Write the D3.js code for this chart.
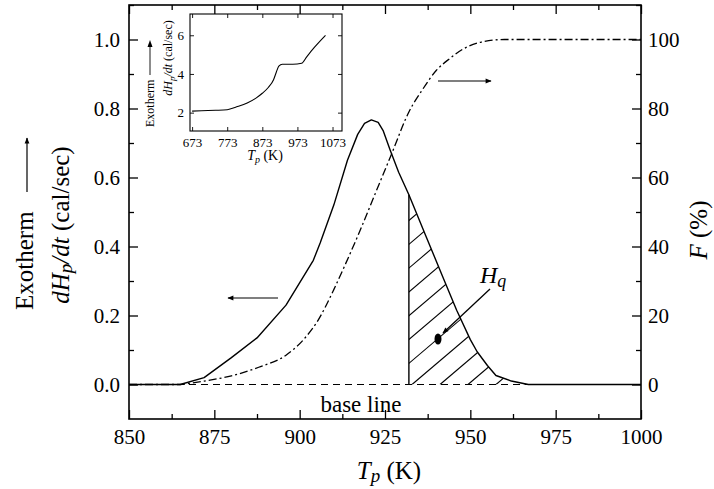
<!DOCTYPE html>
<html>
<head>
<meta charset="utf-8">
<script src="https://cdn.jsdelivr.net/npm/d3@7"></script>
<style>
  body { margin: 0; background: #fff; }
  .tick line { stroke: #000; stroke-width: 1.3; }
</style>
</head>
<body>
<svg id="chart" width="714" height="489"></svg>
<script>
// main curve, dHp/dt (cal/sec) vs Tp (K)
const tempK = [850, 865, 872, 880, 887.5, 896, 904, 906, 910, 914, 917, 919, 921, 923, 924.5, 926.5, 929, 932, 937, 942, 946, 950, 952, 955, 957.5, 962, 967, 1000];
const heatRate = [0, 0, 0.02, 0.078, 0.135, 0.23, 0.36, 0.41, 0.52, 0.65, 0.725, 0.757, 0.767, 0.76, 0.735, 0.68, 0.615, 0.55, 0.43, 0.31, 0.215, 0.13, 0.095, 0.055, 0.026, 0.01, 0, 0];

// fraction F (%) vs Tp (K)
const fracTemp = [850, 865, 868, 872, 880, 888, 896, 902, 905, 910, 913, 917, 922, 927, 932, 936, 940, 944, 948, 953, 960, 1000];
const fracPct = [0, 0, 0.4, 1, 2.5, 5, 8.5, 14, 18, 27.5, 34, 43, 55, 67, 79, 85.5, 91, 94.5, 97.3, 99.2, 100, 100];

// inset curve, 673-1073 K
const insetTemp = [673, 700, 740, 773, 800, 830, 855, 873, 890, 905, 913, 920, 930, 960, 985, 1000, 1020, 1053];
const insetRate = [2.08, 2.1, 2.12, 2.15, 2.3, 2.5, 2.75, 3.0, 3.3, 3.7, 4.1, 4.4, 4.5, 4.5, 4.55, 4.9, 5.35, 6.0];

const xTicks = [850, 875, 900, 925, 950, 975, 1000];
const yLeftTicks = [0, 0.2, 0.4, 0.6, 0.8, 1.0];
const yRightTicks = [0, 20, 40, 60, 80, 100];
const insetXTicks = [673, 773, 873, 973, 1073];
const insetYTicks = [2, 4, 6];

const hqStart = 932; // left edge of the hatched Hq area
const hqEnd = 967;

const serif = '"Liberation Serif", "Times New Roman", serif';
const svg = d3.select('#chart').attr('font-family', serif);

const plot = { left: 129, right: 641, top: 5, bottom: 419 };

const x = d3.scaleLinear().domain([850, 1000]).range([plot.left, plot.right]);
const yL = d3.scaleLinear().domain([-0.1, 1.1]).range([plot.bottom, plot.top]);
const yR = d3.scaleLinear().domain([-10, 110]).range([plot.bottom, plot.top]);

// arrow heads
const defs = svg.append('defs');
defs.append('marker')
  .attr('id', 'head')
  .attr('viewBox', '0 0 10 10')
  .attr('refX', 9).attr('refY', 5)
  .attr('markerWidth', 9).attr('markerHeight', 6)
  .attr('markerUnits', 'userSpaceOnUse')
  .attr('orient', 'auto')
  .append('path').attr('d', 'M0,1 L10,5 L0,9 Z').attr('fill', '#000');

const heatLine = d3.line().x(d => x(d[0])).y(d => yL(d[1]));
const heatPts = tempK.map((t, i) => [t, heatRate[i]]);
const interp = d3.scaleLinear().domain(tempK).range(heatRate);

// hatched area under the tail of the peak
const hqPoly = [[hqStart, 0], [hqStart, interp(hqStart)],
  ...heatPts.filter(d => d[0] > hqStart && d[0] <= hqEnd)];

defs.append('clipPath').attr('id', 'hqClip')
  .append('path')
  .attr('d', heatLine(hqPoly) + 'Z');

const hatch = svg.append('g').attr('clip-path', 'url(#hqClip)');
const slope = 0.85;
for (let x0 = 440 - 28 * 12; x0 < 720; x0 += 28) {
  hatch.append('line')
    .attr('x1', x0).attr('y1', yL(0))
    .attr('x2', x0 + 300).attr('y2', yL(0) - 300 * slope)
    .attr('stroke', '#000').attr('stroke-width', 1.1);
}

svg.append('line')
  .attr('x1', x(hqStart)).attr('x2', x(hqStart))
  .attr('y1', yL(0)).attr('y2', yL(interp(hqStart)))
  .attr('stroke', '#000').attr('stroke-width', 1.4);

// base line
svg.append('line')
  .attr('x1', x(850)).attr('x2', x(1000))
  .attr('y1', yL(0)).attr('y2', yL(0))
  .attr('stroke', '#000').attr('stroke-width', 1.2)
  .attr('stroke-dasharray', '7,5');

// curves
svg.append('path')
  .datum(heatPts)
  .attr('fill', 'none').attr('stroke', '#000').attr('stroke-width', 1.4)
  .attr('stroke-linejoin', 'round')
  .attr('d', heatLine);

svg.append('path')
  .datum(fracTemp.map((t, i) => [t, fracPct[i]]))
  .attr('fill', 'none').attr('stroke', '#000').attr('stroke-width', 1.3)
  .attr('stroke-dasharray', '8,3,2,3')
  .attr('d', d3.line().x(d => x(d[0])).y(d => yR(d[1])).curve(d3.curveMonotoneX));

// frame and axes
svg.append('rect')
  .attr('x', plot.left).attr('y', plot.top)
  .attr('width', plot.right - plot.left).attr('height', plot.bottom - plot.top)
  .attr('fill', 'none').attr('stroke', '#000').attr('stroke-width', 1.6);

const minorX = d3.range(862.5, 1000, 25);
const minorYL = d3.range(0.1, 1.11, 0.2);
const minorYR = d3.range(10, 111, 20);

function ticks(axis, g, size) {
  g.call(axis).call(s => s.select('.domain').remove());
  g.attr('font-family', serif).attr('font-size', size || 21);
  g.selectAll('text').attr('fill', '#000');
  return g;
}

ticks(d3.axisBottom(x).tickValues(xTicks).tickSize(-9).tickPadding(10).tickFormat(d3.format('d')),
  svg.append('g').attr('transform', `translate(0,${plot.bottom})`));
ticks(d3.axisBottom(x).tickValues(minorX).tickSize(-5).tickFormat(''),
  svg.append('g').attr('transform', `translate(0,${plot.bottom})`));
ticks(d3.axisTop(x).tickValues(xTicks).tickSize(-9).tickFormat(''),
  svg.append('g').attr('transform', `translate(0,${plot.top})`));
ticks(d3.axisTop(x).tickValues(minorX).tickSize(-5).tickFormat(''),
  svg.append('g').attr('transform', `translate(0,${plot.top})`));

ticks(d3.axisLeft(yL).tickValues(yLeftTicks).tickSize(-9).tickPadding(9).tickFormat(d3.format('.1f')),
  svg.append('g').attr('transform', `translate(${plot.left},0)`));
ticks(d3.axisLeft(yL).tickValues(minorYL).tickSize(-5).tickFormat(''),
  svg.append('g').attr('transform', `translate(${plot.left},0)`));
ticks(d3.axisRight(yR).tickValues(yRightTicks).tickSize(-9).tickPadding(7).tickFormat(d3.format('d')),
  svg.append('g').attr('transform', `translate(${plot.right},0)`));
ticks(d3.axisRight(yR).tickValues(minorYR).tickSize(-5).tickFormat(''),
  svg.append('g').attr('transform', `translate(${plot.right},0)`));

// axis titles
const xt = svg.append('text').attr('x', 389).attr('y', 479).attr('text-anchor', 'middle').attr('font-size', 25);
xt.append('tspan').attr('font-style', 'italic').text('T');
xt.append('tspan').attr('font-style', 'italic').attr('font-size', 19).attr('dy', 3).text('p');
xt.append('tspan').attr('dy', -3).text(' (K)');

const fr = svg.append('text').attr('transform', 'translate(707,230) rotate(-90)').attr('text-anchor', 'middle').attr('font-size', 25);
fr.append('tspan').attr('font-style', 'italic').text('F');
fr.append('tspan').text(' (%)');

const exo = svg.append('g').attr('transform', 'translate(33,310) rotate(-90)');
exo.append('text').attr('font-size', 25).text('Exotherm');
exo.append('line').attr('x1', 118).attr('x2', 172).attr('y1', -6).attr('y2', -6)
  .attr('stroke', '#000').attr('stroke-width', 1.2).attr('marker-end', 'url(#head)');

const yt = svg.append('text').attr('transform', 'translate(69,225) rotate(-90)').attr('text-anchor', 'middle').attr('font-size', 25);
yt.append('tspan').attr('font-style', 'italic').text('dH');
yt.append('tspan').attr('font-style', 'italic').attr('font-size', 19).attr('dy', 3).text('p');
yt.append('tspan').attr('font-style', 'italic').attr('dy', -3).text('/dt');
yt.append('tspan').text(' (cal/sec)');

// annotations
svg.append('text').attr('x', 361).attr('y', 412).attr('text-anchor', 'middle').attr('font-size', 23).text('base line');

svg.append('line').attr('x1', 278).attr('x2', 228).attr('y1', 298).attr('y2', 298)
  .attr('stroke', '#000').attr('stroke-width', 1.2).attr('marker-end', 'url(#head)');
svg.append('line').attr('x1', 438).attr('x2', 491).attr('y1', 81).attr('y2', 81)
  .attr('stroke', '#000').attr('stroke-width', 1.2).attr('marker-end', 'url(#head)');

const hq = svg.append('text').attr('x', 480).attr('y', 283).attr('font-size', 24).attr('font-style', 'italic');
hq.append('tspan').text('H');
hq.append('tspan').attr('font-size', 18).attr('dy', 4).text('q');
svg.append('line').attr('x1', 490).attr('y1', 289).attr('x2', 443).attr('y2', 333)
  .attr('stroke', '#000').attr('stroke-width', 1.3).attr('marker-end', 'url(#head)');
svg.append('ellipse').attr('cx', 438).attr('cy', 339).attr('rx', 3.5).attr('ry', 5.5).attr('fill', '#000');

// inset
const inset = { left: 190, right: 342, top: 14, bottom: 131 };
const xi = d3.scaleLinear().domain([667, 1100]).range([inset.left, inset.right]);
const yi = d3.scaleLinear().domain([1.05, 7.1]).range([inset.bottom, inset.top]);

svg.append('path')
  .datum(insetTemp.map((t, i) => [t, insetRate[i]]))
  .attr('fill', 'none').attr('stroke', '#000').attr('stroke-width', 1.1)
  .attr('d', d3.line().x(d => xi(d[0])).y(d => yi(d[1])).curve(d3.curveMonotoneX));

svg.append('rect')
  .attr('x', inset.left).attr('y', inset.top)
  .attr('width', inset.right - inset.left).attr('height', inset.bottom - inset.top)
  .attr('fill', 'none').attr('stroke', '#000').attr('stroke-width', 1.1);

function small(axis, g) {
  ticks(axis, g, 13);
  g.selectAll('line').style('stroke-width', 0.9);
  return g;
}
small(d3.axisBottom(xi).tickValues(insetXTicks).tickSize(-4).tickPadding(7).tickFormat(d3.format('d')),
  svg.append('g').attr('transform', `translate(0,${inset.bottom})`));
small(d3.axisTop(xi).tickValues(insetXTicks).tickSize(-4).tickFormat(''),
  svg.append('g').attr('transform', `translate(0,${inset.top})`));
small(d3.axisLeft(yi).tickValues(insetYTicks).tickSize(-4).tickPadding(6).tickFormat(d3.format('d')),
  svg.append('g').attr('transform', `translate(${inset.left},0)`));
small(d3.axisRight(yi).tickValues(insetYTicks).tickSize(-4).tickFormat(''),
  svg.append('g').attr('transform', `translate(${inset.right},0)`));

const ixt = svg.append('text').attr('x', 265).attr('y', 160).attr('text-anchor', 'middle').attr('font-size', 14);
ixt.append('tspan').attr('font-style', 'italic').text('T');
ixt.append('tspan').attr('font-style', 'italic').attr('font-size', 10).attr('dy', 3).text('p');
ixt.append('tspan').attr('dy', -3).text(' (K)');

const iexo = svg.append('g').attr('transform', 'translate(154,127) rotate(-90)');
iexo.append('text').attr('font-size', 12).text('Exotherm');
iexo.append('line').attr('x1', 52).attr('x2', 80).attr('y1', -4).attr('y2', -4)
  .attr('stroke', '#000').attr('stroke-width', 0.9);
iexo.append('path').attr('d', 'M80,-6.5 L87,-4 L80,-1.5 Z').attr('fill', '#000');

const iyt = svg.append('text').attr('transform', 'translate(172,58) rotate(-90)').attr('text-anchor', 'middle').attr('font-size', 12);
iyt.append('tspan').attr('font-style', 'italic').text('dH');
iyt.append('tspan').attr('font-style', 'italic').attr('font-size', 9).attr('dy', 3).text('p');
iyt.append('tspan').attr('font-style', 'italic').attr('dy', -3).text('/dt');
iyt.append('tspan').text('  (cal/sec)');
</script>
</body>
</html>
